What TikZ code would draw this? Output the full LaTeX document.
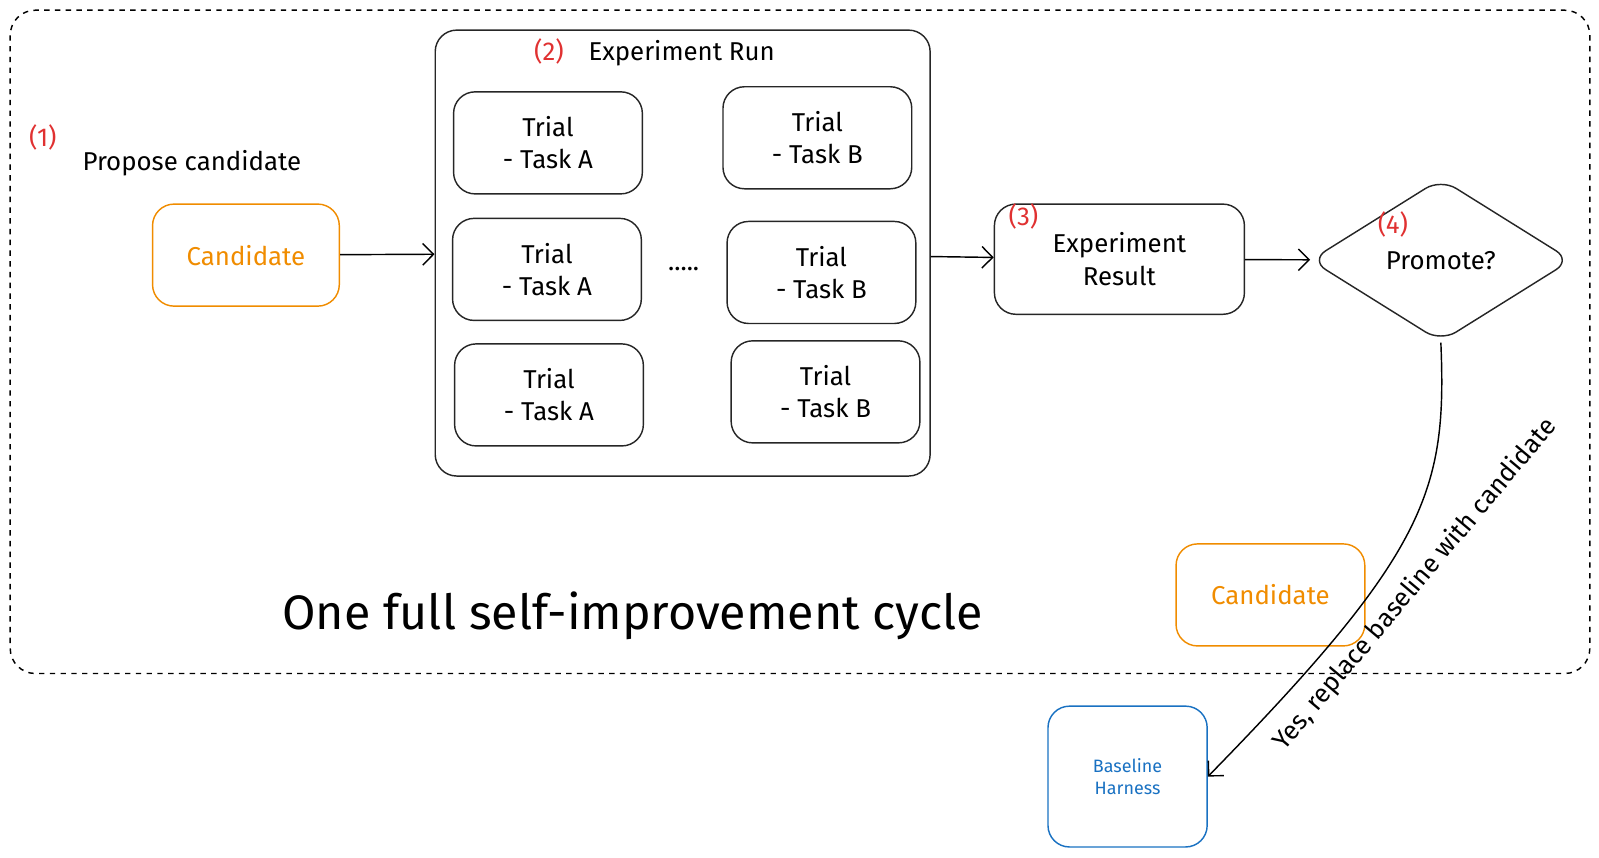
\documentclass[tikz,border=0pt]{standalone}
\usepackage{fontspec}
\setmainfont{Fira Sans}
\usepackage{tikz}
\usetikzlibrary{shapes.geometric,arrows.meta}
\definecolor{candOrange}{HTML}{F08C00}
\definecolor{baseBlue}{HTML}{1971C2}
\definecolor{stepRed}{HTML}{E03131}
\begin{document}
\begin{tikzpicture}[
  x=0.02cm,y=-0.02cm,
  box/.style={
    draw=black!85,
    thick,
    rounded corners=12pt,
    align=center,
    font=\Large,
  },
  trial/.style={
    box,
    minimum width=185*0.02cm,
    minimum height=100*0.02cm,
  },
  stepnum/.style={
    text=stepRed,
    font=\Large,
  },
  flow/.style={
    -{Straight Barb[length=6pt]},
    thick,
  }
]
\useasboundingbox (0,0) rectangle (1567,840);
\draw[dashed,thick,rounded corners=14pt] (10,10) rectangle (1558,660);
% step 1
\node[stepnum] (s1) at (42,135) {(1)};
\node[font=\Large] (propose) at (188,160) {Propose candidate};
\node[box,draw=candOrange,text=candOrange,minimum width=183*0.02cm,minimum height=100*0.02cm] (cand) at (241,250) {Candidate};
% step 2
\node[box,minimum width=485*0.02cm,minimum height=437*0.02cm] (run) at (669,248) {};
\node[stepnum] (s2) at (538,50) {(2)};
\node[font=\Large] (runlabel) at (668,52) {Experiment Run};
\foreach \n/\x/\y/\t in {a1/537/140/A,a2/536/264/A,a3/538/387/A,b1/801/135/B,b2/805/267/B,b3/809/384/B} {
  \node[trial] (\n) at (\x,\y) {Trial\\- Task \t};
}
\node[font=\Large] (dots) at (670,264) {.....};
% step 3
\node[box,minimum width=245*0.02cm,minimum height=108*0.02cm] (result) at (1097,254) {Experiment\\Result};
\node[stepnum] (s3) at (1003,212) {(3)};
% step 4
\node[draw=black!85,thick,diamond,aspect=1.6,minimum width=256*0.02cm,minimum height=160*0.02cm,rounded corners=10pt,font=\Large] (promote) at (1412,255) {Promote?};
\node[stepnum] (s4) at (1365,220) {(4)};
\node[box,draw=candOrange,text=candOrange,minimum width=185*0.02cm,minimum height=100*0.02cm] (cand2) at (1245,583) {Candidate};
\node[box,draw=baseBlue,text=baseBlue,font=\normalsize,minimum width=156*0.02cm,minimum height=138*0.02cm] (base) at (1105,761) {Baseline\\Harness};
\node[font=\fontsize{27}{32}\selectfont] (title) at (620,603) {One full self-improvement cycle};
% connectors
\draw[flow] (cand) -- (run);
\draw[flow] (run) -- (result);
\draw[flow] (result) -- (promote);
\draw[flow] (promote.south) .. controls (1418,480) and (1400,540) .. (base.east);
\node[font=\Large,rotate=50] (yes) at (1387,573) {Yes, replace baseline with candidate};
\end{tikzpicture}
\end{document}
